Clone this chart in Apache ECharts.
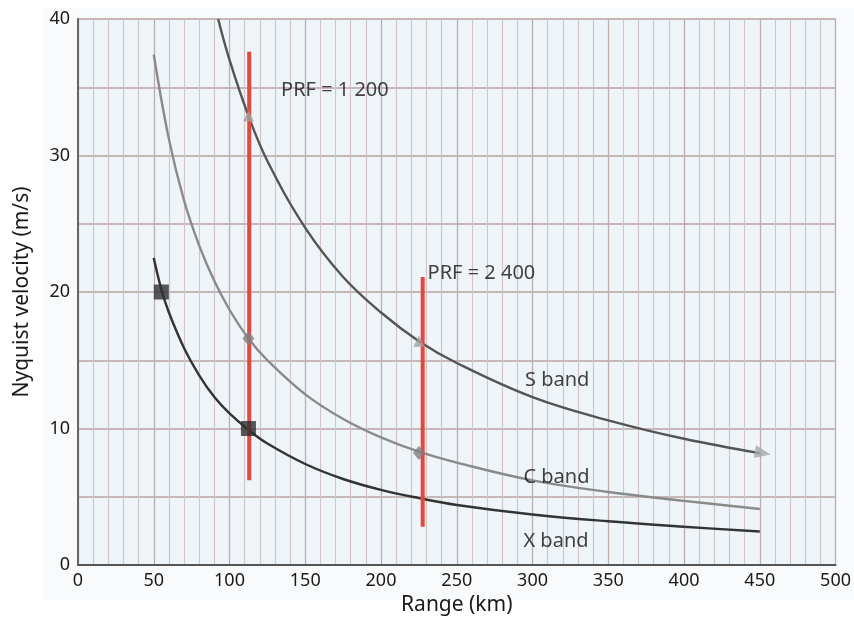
<!DOCTYPE html>
<html>
<head>
<meta charset="utf-8">
<script src="https://cdn.jsdelivr.net/npm/echarts@6/dist/echarts.min.js"></script>
<style>html,body{margin:0;padding:0;background:#fff}#c{width:854px;height:628px}</style>
</head>
<body>
<div id="c"></div>
<script>
// Data
const xRange = [50,55,60,70,80,90,100,112.5,125,150,175,200,225,250,300,350,400,450];
const xBand  = [22.5,20.2,18.5,15.9,13.9,12.3,11.1,9.9,8.9,7.4,6.3,5.5,4.9,4.4,3.7,3.2,2.8,2.45];
const cRange = [50,60,70,80,90,100,112.5,125,150,175,200,225,250,300,350,400,450];
const cBand  = [37.4,31.2,26.7,23.4,20.8,18.7,16.6,15.0,12.5,10.7,9.35,8.3,7.5,6.2,5.35,4.7,4.1];
const sRange = [92.5,100,112.5,125,150,175,200,225,250,300,350,400,450];
const sBand  = [40,37,32.9,29.6,24.7,21.1,18.5,16.4,14.8,12.3,10.6,9.25,8.2];
const xMarkR = [55,112.5];   const xMarkV = [20,10];
const cMarkR = [112.5,225];  const cMarkV = [16.6,8.2];
const sMarkR = [112.5,225];  const sMarkV = [32.9,16.4];
const sArrowR = [452]; const sArrowV = [8.2];
const prf1 = {range:113, from:6.2, to:37.6};
const prf2 = {range:227.5, from:2.8, to:21.1};
const labelText = ['PRF = 1 200','PRF = 2 400','S band','C band','X band'];
const labelR = [134,230.7,295,294,294];
const labelV = [34.8,21.4,13.5,6.45,1.75];
const xTicks = [0,50,100,150,200,250,300,350,400,450,500];
const yTicks = [0,10,20,30,40];

const zip = (a,b)=>a.map((v,i)=>[v,b[i]]);
const FONT = 'Noto Sans';
const chart = echarts.init(document.getElementById('c'), null, {renderer:'canvas'});
chart.setOption({
  animation:false,
  backgroundColor:'#ffffff',
  graphic:[{type:'rect',left:43,top:8,shape:{width:811,height:592},style:{fill:'#f9fafb'},z:-10,silent:true}],
  grid:{left:78,right:11,top:19,bottom:63,show:true,backgroundColor:'#eef4f8',borderWidth:0},
  xAxis:[{
    type:'value',min:xTicks[0],max:xTicks[xTicks.length-1],interval:50,
    name:'Range (km)',nameLocation:'middle',nameGap:30,
    nameTextStyle:{fontFamily:FONT,fontSize:21,color:'#1a1a1a'},
    axisLine:{show:true,lineStyle:{color:'#b0b0b0',width:1}},
    axisTick:{show:false},
    axisLabel:{fontFamily:FONT,fontSize:18,color:'#1a1a1a',margin:7},
    splitLine:{show:true,lineStyle:{color:'#bdaeae',width:1.3}},
    minorTick:{show:false,splitNumber:5},
    minorSplitLine:{show:true,lineStyle:{color:'#d0c4c4',width:1.1}}
  },{
    type:'value',position:'top',min:0,max:500,
    axisLine:{show:true,lineStyle:{color:'#555',width:2}},
    axisTick:{show:false},axisLabel:{show:false},splitLine:{show:false}
  }],
  yAxis:[{
    type:'value',min:yTicks[0],max:yTicks[yTicks.length-1],interval:10,
    name:'Nyquist velocity (m/s)',nameLocation:'middle',nameGap:45,
    nameTextStyle:{fontFamily:FONT,fontSize:21,color:'#1a1a1a'},
    axisLine:{show:true,lineStyle:{color:'#b0b0b0',width:1}},
    axisTick:{show:false},
    axisLabel:{fontFamily:FONT,fontSize:18,color:'#1a1a1a',margin:8},
    splitLine:{show:true,lineStyle:{color:'#b9a2a2',width:1.5}},
    minorTick:{show:false,splitNumber:2},
    minorSplitLine:{show:true,lineStyle:{color:'#b9a2a2',width:1.5}}
  },{
    type:'value',position:'right',min:0,max:40,
    axisLine:{show:true,lineStyle:{color:'#666',width:2}},
    axisTick:{show:false},axisLabel:{show:false},splitLine:{show:false}
  }],
  series:[
    {type:'line',name:'X band',data:zip(xRange,xBand),smooth:0.4,showSymbol:false,
      lineStyle:{color:'#333',width:2.4},z:3},
    {type:'line',name:'C band',data:zip(cRange,cBand),smooth:0.4,showSymbol:false,
      lineStyle:{color:'#8a8a8a',width:2.4},z:3},
    {type:'line',name:'S band',data:zip(sRange,sBand),smooth:0.4,showSymbol:false,
      lineStyle:{color:'#555',width:2.4},z:3},
    {type:'line',data:[[prf1.range,prf1.from],[prf1.range,prf1.to]],showSymbol:false,
      lineStyle:{color:'#e5473f',width:4},z:4},
    {type:'line',data:[[prf2.range,prf2.from],[prf2.range,prf2.to]],showSymbol:false,
      lineStyle:{color:'#e5473f',width:4},z:4},
    {type:'scatter',data:zip(xMarkR,xMarkV),symbol:'rect',symbolSize:15,
      itemStyle:{color:'#2e2e2e'},z:5},
    {type:'scatter',data:zip(cMarkR,cMarkV),symbol:'diamond',symbolSize:[12,14],
      itemStyle:{color:'#808080'},z:5},
    {type:'scatter',data:zip(sMarkR,sMarkV),symbol:'triangle',symbolSize:11,
      itemStyle:{color:'#a0a0a0',opacity:0.8},z:5},
    {type:'scatter',data:zip(sArrowR,sArrowV),symbol:'triangle',symbolSize:[13,16],symbolRotate:-100,
      itemStyle:{color:'#a8a8a8'},z:5},
    {type:'scatter',symbolSize:0,silent:true,z:6,
      data:labelText.map((t,i)=>({value:[labelR[i],labelV[i]],name:t})),
      label:{show:true,position:'right',distance:0,formatter:p=>p.name,
        fontFamily:FONT,fontSize:20,color:'#111'}}
  ]
});
</script>
</body>
</html>
